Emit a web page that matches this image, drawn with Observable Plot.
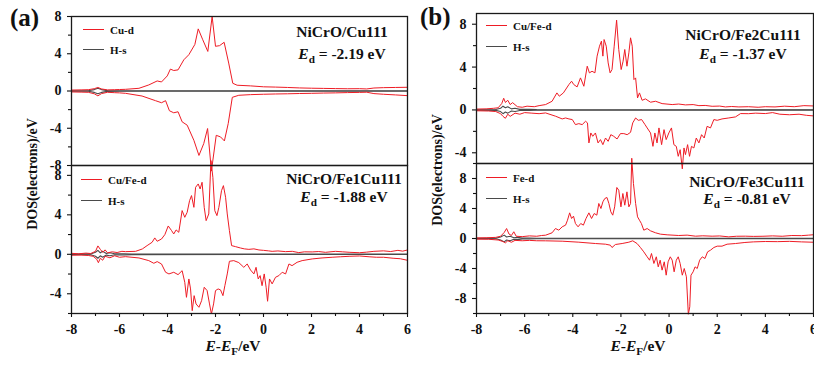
<!DOCTYPE html>
<html>
<head>
<meta charset="utf-8">
<script src="https://cdn.jsdelivr.net/npm/d3@7"></script>
<script src="https://cdn.jsdelivr.net/npm/@observablehq/plot@0.6"></script>
<style>
  html, body { margin: 0; padding: 0; background: #fff; }
  #wrap { position: relative; width: 814px; height: 365px; overflow: hidden; background: #fff;
          font-family: "Liberation Serif", "Times New Roman", serif; font-weight: bold; color: #111; }
  .pl { position: absolute; }
  .pl svg { overflow: visible; }
  .txt { position: absolute; white-space: nowrap; line-height: 1; }
  .lg { position: absolute; height: 0; width: 21px; }
  .rot { position: absolute; transform: translate(-50%, -50%) rotate(-90deg); white-space: nowrap; font-size: 14px; }
  sub { font-size: 0.72em; vertical-align: -0.3em; line-height: 0; }
</style>
</head>
<body>
<div id="wrap"></div>
<script>
// ---------------- DATA ----------------
const xMajorTicks = [-8, -6, -4, -2, 0, 2, 4, 6];
const xMinorTicks = [-7, -5, -3, -1, 1, 3, 5];

const labelsA1 = ["Cu-d", "H-s", "NiCrO/Cu111", "-2.19"];
const labelsA2 = ["Cu/Fe-d", "H-s", "NiCrO/Fe1Cu111", "-1.88"];
const labelsB1 = ["Cu/Fe-d", "H-s", "NiCrO/Fe2Cu111", "-1.37"];
const labelsB2 = ["Fe-d", "H-s", "NiCrO/Fe3Cu111", "-0.81"];

// (a) top: NiCrO/Cu111, Cu-d spin up / spin down  [E-EF, DOS]
const a1Up = [[-8,0.1],[-7.6,0.12],[-7.3,0.14],[-7.05,0.25],[-6.9,0.38],[-6.75,0.22],[-6.5,0.12],[-6.2,0.14],[-6,0.16],[-5.75,0.18],[-5.19,0.29],[-4.78,0.65],[-4.43,1.08],[-4.25,0.97],[-4.01,1.62],[-3.88,2.35],[-3.74,2.2],[-3.56,2.27],[-3.32,3.35],[-3.11,3.9],[-2.86,5.0],[-2.72,6.67],[-2.53,5.5],[-2.32,4.25],[-2.14,8.0],[-2.0,4.8],[-1.83,4.87],[-1.64,5.23],[-1.45,3.0],[-1.28,0.83],[-1.1,0.62],[-0.54,0.55],[0,0.45],[0.5,0.42],[1,0.38],[1.5,0.33],[2,0.3],[2.5,0.28],[3,0.26],[3.5,0.24],[4,0.25],[4.3,0.22],[4.6,0.32],[5,0.36],[5.5,0.38],[6,0.4]];
const a1Down = [[-8,-0.1],[-7.6,-0.12],[-7.3,-0.14],[-7.05,-0.3],[-6.9,-0.52],[-6.75,-0.28],[-6.5,-0.14],[-6.2,-0.18],[-6,-0.2],[-5.75,-0.25],[-5.06,-0.54],[-4.5,-1.04],[-4.25,-1.26],[-4.08,-1.04],[-3.92,-2.12],[-3.74,-2.34],[-3.56,-2.23],[-3.39,-3.31],[-3.18,-3.67],[-2.9,-5.3],[-2.69,-6.92],[-2.49,-5.65],[-2.33,-4.03],[-2.17,-8.6],[-1.97,-4.76],[-1.79,-4.93],[-1.63,-5.36],[-1.47,-3.49],[-1.3,-0.68],[-1.03,-0.46],[-0.54,-0.39],[0,-0.35],[0.5,-0.32],[1,-0.3],[1.5,-0.27],[2,-0.25],[2.5,-0.22],[3,-0.2],[3.5,-0.17],[4,-0.15],[4.3,-0.13],[4.6,-0.28],[5,-0.35],[5.5,-0.42],[6,-0.5]];
const a1HsUp = [[-8,0.02],[-7.3,0.03],[-7.05,0.15],[-6.9,0.3],[-6.75,0.15],[-6.5,0.04],[-6,0.02],[6,0.02]];
const a1HsDown = [[-8,-0.02],[-7.3,-0.03],[-7.05,-0.15],[-6.9,-0.3],[-6.75,-0.15],[-6.5,-0.04],[-6,-0.02],[6,-0.02]];

// (a) bottom: NiCrO/Fe1Cu111, Cu/Fe-d
const a2Up = [[-8,0.1],[-7.7,0.05],[-7.4,0.12],[-7.2,0.08],[-7.0,0.3],[-6.9,0.85],[-6.8,0.5],[-6.7,0.2],[-6.6,0.45],[-6.5,0.15],[-6.3,0.25],[-6.1,0.18],[-5.9,0.3],[-5.75,0.27],[-5.33,0.3],[-5.05,0.54],[-4.85,0.88],[-4.64,1.22],[-4.53,1.66],[-4.43,1.32],[-4.25,1.55],[-4.11,2.0],[-3.97,2.87],[-3.83,2.4],[-3.74,2.06],[-3.64,2.47],[-3.53,2.23],[-3.39,4.43],[-3.28,3.75],[-3.18,4.26],[-3.08,5.44],[-3.0,5.95],[-2.9,4.76],[-2.83,6.79],[-2.72,7.13],[-2.64,6.62],[-2.56,7.3],[-2.47,4.76],[-2.39,3.41],[-2.28,4.09],[-2.19,9.5],[-2.11,7.8],[-2.03,4.43],[-1.94,3.92],[-1.86,4.76],[-1.75,6.45],[-1.67,6.96],[-1.58,5.78],[-1.51,4.09],[-1.42,2.4],[-1.33,0.88],[-1.17,0.78],[-0.96,0.64],[-0.8,0.55],[-0.61,0.5],[-0.4,0.55],[-0.19,0.44],[0,0.4],[0.2,0.35],[0.36,0.3],[0.6,0.34],[0.92,0.27],[1.2,0.3],[1.47,0.17],[1.7,0.25],[2.03,0.24],[2.3,0.28],[2.58,0.2],[3,0.3],[3.3,0.25],[3.6,0.2],[4,0.16],[4.3,0.22],[4.6,0.3],[5,0.35],[5.3,0.28],[5.6,0.4],[5.8,0.32],[6,0.44]];
const a2Down = [[-8,-0.1],[-7.6,-0.08],[-7.3,-0.12],[-7.1,-0.2],[-6.95,-0.5],[-6.88,-0.85],[-6.8,-0.4],[-6.7,-0.6],[-6.6,-0.2],[-6.4,-0.35],[-6.2,-0.15],[-6,-0.3],[-5.75,-0.24],[-5.19,-0.37],[-4.78,-0.64],[-4.57,-0.91],[-4.43,-0.74],[-4.25,-0.98],[-4.08,-1.82],[-3.94,-1.99],[-3.74,-1.82],[-3.56,-2.06],[-3.39,-1.66],[-3.28,-2.84],[-3.21,-4.36],[-3.11,-2.5],[-3.04,-3.51],[-2.97,-5.71],[-2.89,-4.19],[-2.81,-5.03],[-2.69,-5.37],[-2.58,-4.7],[-2.47,-3.34],[-2.35,-3.68],[-2.25,-5.03],[-2.17,-6.05],[-2.08,-5.03],[-2.0,-3.68],[-1.89,-3.51],[-1.79,-3.61],[-1.69,-4.19],[-1.61,-3.18],[-1.51,-1.99],[-1.42,-0.71],[-1.24,-0.64],[-1.03,-0.84],[-0.82,-1.32],[-0.68,-0.98],[-0.54,-1.59],[-0.4,-1.99],[-0.31,-1.32],[-0.22,-2.5],[-0.14,-2.16],[-0.06,-3.18],[0.03,-1.99],[0.11,-3.34],[0.17,-4.76],[0.25,-2.5],[0.36,-3.0],[0.5,-2.33],[0.64,-2.16],[0.78,-1.82],[0.92,-1.99],[1.06,-0.98],[1.19,-1.15],[1.4,-0.81],[1.61,-0.64],[2.03,-0.47],[2.44,-0.37],[2.86,-0.3],[3.2,-0.25],[3.6,-0.2],[4,-0.17],[4.4,-0.25],[4.7,-0.3],[5,-0.3],[5.4,-0.4],[5.7,-0.45],[6,-0.61]];
const a2HsUp = [[-8,0.02],[-7.2,0.04],[-7.0,0.2],[-6.9,0.4],[-6.8,0.15],[-6.7,0.3],[-6.55,0.08],[-6.4,0.15],[-6.2,0.05],[-5.8,0.06],[-5.5,0.03],[6,0.02]];
const a2HsDown = [[-8,-0.02],[-7.2,-0.04],[-7.0,-0.2],[-6.9,-0.4],[-6.8,-0.15],[-6.7,-0.3],[-6.55,-0.08],[-6.4,-0.15],[-6.2,-0.05],[-5.8,-0.06],[-5.5,-0.03],[6,-0.02]];

// (b) top: NiCrO/Fe2Cu111, Cu/Fe-d
const b1Up = [[-8,0.08],[-7.6,0.1],[-7.3,0.15],[-7.1,0.2],[-6.95,0.6],[-6.87,1.09],[-6.8,0.7],[-6.7,0.9],[-6.6,0.5],[-6.5,0.68],[-6.3,0.3],[-6.1,0.25],[-5.9,0.35],[-5.6,0.3],[-5.4,0.4],[-5.13,0.5],[-4.86,0.81],[-4.66,1.59],[-4.56,1.28],[-4.39,1.59],[-4.16,2.37],[-4.05,2.68],[-3.96,2.37],[-3.82,2.15],[-3.68,2.99],[-3.54,2.21],[-3.4,4.08],[-3.31,3.46],[-3.2,3.61],[-3.08,3.46],[-2.99,5.02],[-2.89,5.95],[-2.81,6.42],[-2.75,5.02],[-2.7,6.57],[-2.61,5.95],[-2.53,4.39],[-2.45,3.46],[-2.37,3.77],[-2.28,5.95],[-2.18,8.38],[-2.09,5.64],[-1.99,3.77],[-1.91,4.55],[-1.84,5.64],[-1.75,4.08],[-1.67,5.33],[-1.6,6.73],[-1.53,5.95],[-1.46,2.83],[-1.39,2.99],[-1.31,1.12],[-1.23,1.59],[-1.12,0.9],[-0.98,1.03],[-0.77,0.72],[-0.56,0.81],[-0.29,0.59],[0.13,0.5],[0.4,0.55],[0.68,0.47],[1.0,0.5],[1.24,0.4],[1.5,0.42],[1.79,0.34],[2.1,0.36],[2.34,0.28],[2.6,0.32],[2.9,0.28],[3.3,0.3],[3.7,0.25],[4,0.3],[4.4,0.28],[4.8,0.35],[5.2,0.3],[5.6,0.4],[6,0.37]];
const b1Down = [[-8,-0.08],[-7.5,-0.1],[-7.2,-0.15],[-7,-0.35],[-6.9,-0.6],[-6.8,-0.78],[-6.7,-0.4],[-6.6,-0.6],[-6.4,-0.3],[-6.2,-0.4],[-6,-0.25],[-5.7,-0.3],[-5.4,-0.35],[-5.13,-0.28],[-4.71,-0.59],[-4.44,-0.84],[-4.3,-0.75],[-4.16,-0.84],[-4.02,-0.9],[-3.89,-1.37],[-3.75,-1.28],[-3.61,-1.37],[-3.47,-1.06],[-3.39,-1.21],[-3.33,-3.08],[-3.25,-2.15],[-3.17,-2.46],[-3.06,-2.15],[-2.95,-3.08],[-2.85,-2.77],[-2.75,-3.24],[-2.64,-2.62],[-2.53,-2.93],[-2.42,-2.31],[-2.3,-2.46],[-2.16,-2.71],[-2.02,-2.21],[-1.88,-2.21],[-1.74,-2.31],[-1.6,-2.09],[-1.51,-1.21],[-1.39,-0.75],[-1.28,-0.97],[-1.14,-0.9],[-1.0,-1.37],[-0.91,-1.68],[-0.77,-2.15],[-0.67,-3.4],[-0.59,-2.15],[-0.5,-3.08],[-0.42,-1.68],[-0.31,-3.24],[-0.21,-1.84],[-0.12,-2.77],[-0.01,-2.15],[0.1,-1.68],[0.2,-3.24],[0.3,-3.4],[0.38,-4.33],[0.46,-3.71],[0.55,-5.5],[0.62,-3.55],[0.68,-4.17],[0.77,-3.24],[0.85,-4.33],[0.93,-3.4],[1.03,-3.55],[1.13,-2.62],[1.24,-3.08],[1.35,-2.31],[1.46,-2.62],[1.58,-1.53],[1.72,-1.68],[1.86,-0.9],[2.0,-0.97],[2.2,-0.84],[2.48,-0.75],[2.76,-0.65],[2.97,-0.34],[3.3,-0.35],[3.6,-0.3],[4,-0.34],[4.3,-0.25],[4.6,-0.4],[5,-0.45],[5.4,-0.4],[5.7,-0.5],[6,-0.56]];
const b1HsUp = [[-8,0.02],[-7.2,0.04],[-7.0,0.15],[-6.9,0.35],[-6.8,0.2],[-6.7,0.3],[-6.55,0.1],[-6.4,0.15],[-6.2,0.05],[-5.8,0.06],[-5.5,0.03],[6,0.02]];
const b1HsDown = [[-8,-0.02],[-7.2,-0.04],[-7.0,-0.15],[-6.9,-0.35],[-6.8,-0.2],[-6.7,-0.3],[-6.55,-0.1],[-6.4,-0.15],[-6.2,-0.05],[-5.8,-0.06],[-5.5,-0.03],[6,-0.02]];

// (b) bottom: NiCrO/Fe3Cu111, Fe-d
const b2Up = [[-8,0.08],[-7.6,0.1],[-7.2,0.15],[-7,0.3],[-6.85,0.8],[-6.75,1.33],[-6.65,0.6],[-6.55,0.4],[-6.45,0.9],[-6.35,0.3],[-6.1,0.25],[-5.8,0.35],[-5.5,0.3],[-5.3,0.4],[-5.13,0.44],[-4.86,0.76],[-4.72,1.33],[-4.58,1.11],[-4.44,1.56],[-4.3,1.78],[-4.22,2.44],[-4.13,3.42],[-4.05,2.67],[-3.97,2.98],[-3.89,2.0],[-3.78,1.56],[-3.67,2.0],[-3.56,1.78],[-3.45,2.67],[-3.33,3.42],[-3.22,2.67],[-3.11,3.33],[-3.0,3.11],[-2.92,4.67],[-2.83,4.0],[-2.75,4.89],[-2.67,5.33],[-2.58,5.47],[-2.5,4.67],[-2.42,3.56],[-2.34,3.11],[-2.26,4.22],[-2.17,6.8],[-2.09,6.44],[-2.0,4.22],[-1.92,6.0],[-1.84,4.44],[-1.75,6.22],[-1.67,4.22],[-1.6,4.67],[-1.55,10.7],[-1.48,7.33],[-1.39,4.67],[-1.31,2.89],[-1.23,2.44],[-1.15,2.0],[-1.05,1.11],[-0.91,1.33],[-0.77,1.02],[-0.56,0.76],[-0.36,0.58],[-0.08,0.49],[0.4,0.4],[0.75,0.45],[1.1,0.31],[1.4,0.36],[1.79,0.31],[2.1,0.34],[2.48,0.22],[2.8,0.3],[3.17,0.31],[3.5,0.28],[3.9,0.3],[4.3,0.35],[4.7,0.3],[5.1,0.4],[5.5,0.38],[5.8,0.45],[6,0.5]];
const b2Down = [[-8,-0.08],[-7.5,-0.1],[-7.1,-0.2],[-6.9,-0.4],[-6.8,-0.58],[-6.7,-0.3],[-6.55,-0.5],[-6.4,-0.25],[-6.1,-0.3],[-5.8,-0.25],[-5.5,-0.3],[-5.13,-0.31],[-4.44,-0.36],[-3.75,-0.49],[-3.06,-0.67],[-2.64,-0.76],[-2.44,-0.89],[-2.37,-1.2],[-2.23,-0.8],[-1.95,-0.67],[-1.67,-0.49],[-1.51,-0.31],[-1.33,-0.67],[-1.19,-1.2],[-1.05,-1.78],[-0.91,-2.44],[-0.81,-2.89],[-0.73,-2.0],[-0.63,-3.33],[-0.53,-2.44],[-0.45,-3.78],[-0.37,-2.89],[-0.29,-4.22],[-0.2,-3.11],[-0.12,-4.89],[-0.04,-3.11],[0.05,-2.44],[0.13,-2.89],[0.21,-4.44],[0.3,-2.89],[0.38,-2.44],[0.46,-3.33],[0.55,-4.89],[0.63,-4.0],[0.72,-5.11],[0.8,-10.1],[0.86,-9.1],[0.91,-4.89],[1.0,-4.44],[1.08,-3.78],[1.17,-4.0],[1.27,-2.89],[1.38,-2.44],[1.49,-2.67],[1.6,-1.78],[1.72,-1.56],[1.86,-1.2],[2.0,-1.02],[2.2,-1.02],[2.41,-0.76],[2.76,-0.67],[3.15,-0.53],[3.5,-0.45],[4,-0.4],[4.5,-0.42],[5,-0.38],[5.5,-0.45],[6,-0.5]];
const b2HsUp = [[-8,0.02],[-7.2,0.04],[-7.0,0.2],[-6.85,0.45],[-6.75,0.2],[-6.6,0.3],[-6.45,0.1],[-6.3,0.15],[-6.1,0.05],[-5.8,0.06],[-5.5,0.03],[6,0.02]];
const b2HsDown = [[-8,-0.02],[-7.2,-0.04],[-7.0,-0.2],[-6.85,-0.45],[-6.75,-0.2],[-6.6,-0.3],[-6.45,-0.1],[-6.3,-0.15],[-6.1,-0.05],[-5.8,-0.06],[-5.5,-0.03],[6,-0.02]];

// y domains and ticks per panel
const a1Y = [-8, 8], a1YMajor = [-8, -4, 0, 4, 8], a1YMinor = [-6, -2, 2, 6];
const a2Y = [-6, 9], a2YMajor = [-4, 0, 4, 8], a2YMinor = [-6, -2, 2, 6];
const b1Y = [-5, 9], b1YMajor = [-4, 0, 4, 8], b1YMinor = [-2, 2, 6];
const b2Y = [-10, 10], b2YMajor = [-8, -4, 0, 4, 8], b2YMinor = [-10, -6, -2, 2, 6, 10];

// ---------------- DRAW ----------------
const RED = "#ee1c25", HS = "#4a4a4a";
const FONT = "'Liberation Serif', 'Times New Roman', serif";
const wrap = document.getElementById("wrap");
const fmt = d => String(d); // plain hyphen-minus like the original

function panel(cfg) {
  const marks = [
    Plot.line(cfg.hsUp, {x: d => d[0], y: d => d[1], stroke: HS, strokeWidth: 1.1}),
    Plot.line(cfg.hsDown, {x: d => d[0], y: d => d[1], stroke: HS, strokeWidth: 1.1}),
    Plot.line(cfg.up, {x: d => d[0], y: d => d[1], stroke: RED, strokeWidth: 1}),
    Plot.line(cfg.down, {x: d => d[0], y: d => d[1], stroke: RED, strokeWidth: 1}),
    Plot.axisY(cfg.yMajor, {tickSize: 4, tickPadding: 6, label: null, strokeWidth: 1.1, tickFormat: fmt}),
    Plot.axisY(cfg.yMinor, {tickSize: 3, tickFormat: () => "", label: null, strokeWidth: 1.1}),
    Plot.frame({stroke: "#1a1a1a", strokeWidth: 1.3})
  ];
  if (cfg.showX) {
    marks.push(Plot.axisX(xMajorTicks, {tickSize: 4, tickPadding: 7, label: null, strokeWidth: 1.1, tickFormat: fmt}));
    marks.push(Plot.axisX(xMinorTicks, {tickSize: 3, tickFormat: () => "", label: null, strokeWidth: 1.1}));
  }
  const svg = Plot.plot({
    width: cfg.w, height: cfg.h,
    marginLeft: cfg.ml, marginRight: cfg.mr, marginTop: cfg.mt, marginBottom: cfg.mb,
    x: {domain: [-8, 6], axis: null},
    y: {domain: cfg.yDom, axis: null},
    style: {background: "transparent", fontFamily: FONT, fontWeight: "bold",
            fontSize: "14px", color: "#111", overflow: "visible"},
    marks
  });
  // make sure tick labels use the bold serif font of the original
  d3.select(svg).selectAll("g").attr("font-family", null).attr("font-size", null);
  d3.select(svg).selectAll("text")
    .attr("font-family", FONT).attr("font-size", 14).attr("font-weight", "bold").attr("fill", "#111")
    .style("font-family", FONT).style("font-size", "14px").style("font-weight", "bold");
  const div = document.createElement("div");
  div.className = "pl";
  div.style.left = cfg.left + "px";
  div.style.top = cfg.top + "px";
  div.appendChild(svg);
  wrap.appendChild(div);
}

panel({left: 0, top: 0, w: 410, h: 170, ml: 71, mr: 3, mt: 16, mb: 5, yDom: a1Y, yMajor: a1YMajor, yMinor: a1YMinor,
       up: a1Up, down: a1Down, hsUp: a1HsUp, hsDown: a1HsDown, showX: false});
panel({left: 410, top: 0, w: 404, h: 170, ml: 66, mr: 1, mt: 13, mb: 7, yDom: b1Y, yMajor: b1YMajor, yMinor: b1YMinor,
       up: b1Up, down: b1Down, hsUp: b1HsUp, hsDown: b1HsDown, showX: false});
panel({left: 0, top: 160, w: 410, h: 205, ml: 71, mr: 3, mt: 5, mb: 52, yDom: a2Y, yMajor: a2YMajor, yMinor: a2YMinor,
       up: a2Up, down: a2Down, hsUp: a2HsUp, hsDown: a2HsDown, showX: true});
panel({left: 410, top: 160, w: 404, h: 205, ml: 66, mr: 1, mt: 3, mb: 52, yDom: b2Y, yMajor: b2YMajor, yMinor: b2YMinor,
       up: b2Up, down: b2Down, hsUp: b2HsUp, hsDown: b2HsDown, showX: true});

// ---------------- TEXT OVERLAYS ----------------
function addText(html, x, y, size, anchor) {
  const d = document.createElement("div");
  d.className = "txt";
  d.innerHTML = html;
  d.style.fontSize = size + "px";
  d.style.left = x + "px";
  d.style.top = y + "px";
  d.style.transform = anchor === "middle" ? "translate(-50%, -50%)" : "translate(0, -50%)";
  wrap.appendChild(d);
}
function addLegend(labels, x, y1, y2) {
  [[labels[0], RED, y1], [labels[1], HS, y2]].forEach(([t, c, y]) => {
    const l = document.createElement("div");
    l.className = "lg";
    l.style.left = x + "px";
    l.style.top = y + "px";
    l.style.borderTop = "1.3px solid " + c;
    wrap.appendChild(l);
    addText(t, x + 27, y + 0.5, 11, "start");
  });
}
function addNote(labels, cx, y1, y2) {
  addText(labels[2], cx, y1, 15.5, "middle");
  addText("<i>E</i><sub>d</sub> = " + labels[3] + " eV", cx, y2, 15.5, "middle");
}

addText("(a)", 10, 17, 25, "start");
addText("(b)", 420, 16, 25, "start");

addLegend(labelsA1, 83, 29, 49);
addLegend(labelsA2, 81, 179, 200);
addLegend(labelsB1, 486, 25, 46);
addLegend(labelsB2, 486, 177, 198);

addNote(labelsA1, 342, 32, 54);
addNote(labelsA2, 344, 179, 197);
addNote(labelsB1, 743, 35, 54);
addNote(labelsB2, 747, 182, 199);

// y axis titles
[[33, 174], [438, 170]].forEach(([x, y]) => {
  const d = document.createElement("div");
  d.className = "rot";
  d.style.left = x + "px";
  d.style.top = y + "px";
  d.textContent = "DOS(electrons)/eV";
  wrap.appendChild(d);
});
// x axis titles
addText("<i>E</i>-<i>E</i><sub>F</sub>/eV", 233, 346, 15.5, "middle");
addText("<i>E</i>-<i>E</i><sub>F</sub>/eV", 638, 346, 15.5, "middle");
</script>
</body>
</html>
